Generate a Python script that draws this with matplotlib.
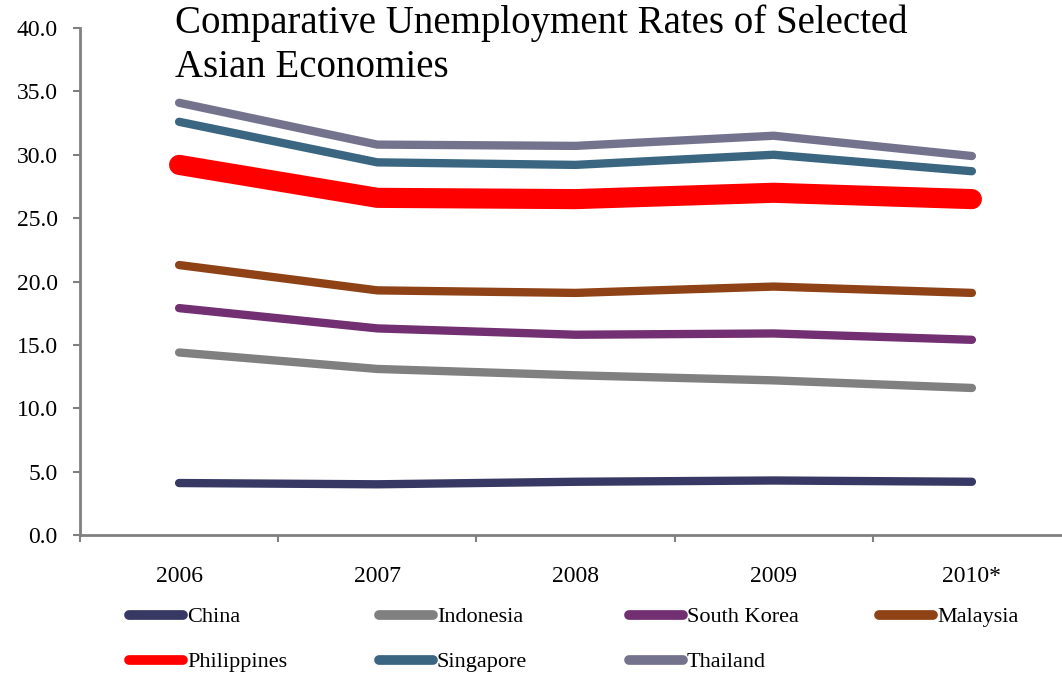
import matplotlib
matplotlib.use("Agg")
import matplotlib.pyplot as plt
from matplotlib.lines import Line2D

# ── Data ─────────────────────────────────────────────────────
YEARS = ["2006", "2007", "2008", "2009", "2010*"]
COUNTRIES = ["China", "Indonesia", "South Korea", "Malaysia",
             "Philippines", "Singapore", "Thailand"]
CHINA = [4.1, 4.0, 4.2, 4.3, 4.2]
INDONESIA = [14.4, 13.1, 12.6, 12.2, 11.6]
SOUTH_KOREA = [17.9, 16.3, 15.8, 15.9, 15.4]
MALAYSIA = [21.3, 19.3, 19.1, 19.6, 19.1]
PHILIPPINES = [29.2, 26.6, 26.5, 27.0, 26.5]
SINGAPORE = [32.6, 29.4, 29.2, 30.0, 28.7]
THAILAND = [34.1, 30.8, 30.7, 31.5, 29.9]
SERIES = [CHINA, INDONESIA, SOUTH_KOREA, MALAYSIA,
          PHILIPPINES, SINGAPORE, THAILAND]

# ── Style ────────────────────────────────────────────────────
COLORS = ["#373864", "#808080", "#722F72", "#8E4216",
          "#FF0000", "#3A6681", "#74738E"]
WIDTHS = [6, 6, 6, 6, 14.5, 6, 6]
AXIS_GRAY = "#808080"
SERIF = ["Liberation Serif", "DejaVu Serif"]
W, H = 1062, 673

plt.rcParams.update({"font.family": SERIF})

fig = plt.figure(figsize=(W / 100, H / 100), dpi=100)
ax = fig.add_axes([80 / W, (H - 535) / H, (1071 - 80) / W, (535 - 28) / H])

x = range(len(YEARS))
for vals, col, lw in zip(SERIES, COLORS, WIDTHS):
    ax.plot(x, vals, color=col, linewidth=lw, solid_capstyle="round",
            solid_joinstyle="round", zorder=3)

ax.set_ylim(0, 40)
ax.set_xlim(-0.5, len(YEARS) - 0.5)
ax.set_yticks(range(0, 41, 5))
ax.set_yticklabels([f"{v:.1f}" for v in range(0, 41, 5)], fontsize=17)
ax.set_xticks(list(x))
ax.set_xticklabels(YEARS, fontsize=17)
ax.set_xticks([i - 0.5 for i in range(len(YEARS))], minor=True)
ax.tick_params(axis="x", which="major", length=0, pad=22)
ax.tick_params(axis="x", which="minor", length=5, width=1.5, color=AXIS_GRAY,
               direction="out")
ax.tick_params(axis="y", length=5, width=1.5, color=AXIS_GRAY, pad=11)

for side in ("top", "right"):
    ax.spines[side].set_visible(False)
for side in ("left", "bottom"):
    ax.spines[side].set_color(AXIS_GRAY)
    ax.spines[side].set_linewidth(2)

fig.text(175 / W, 1 - 4 / H,
         "Comparative Unemployment Rates of Selected\nAsian Economies",
         fontsize=28, ha="left", va="top", linespacing=1.25)

# Manual legend, 4 columns x 2 rows
for i, (name, col) in enumerate(zip(COUNTRIES, COLORS)):
    cx = 129 + 250 * (i % 4)
    cy = 615 + 45 * (i // 4)
    fig.add_artist(Line2D([cx / W, (cx + 54) / W], [1 - cy / H, 1 - cy / H],
                          color=col, linewidth=7, solid_capstyle="round",
                          transform=fig.transFigure))
    fig.text((cx + 58) / W, 1 - (cy + 7) / H, name, fontsize=16,
             ha="left", va="baseline")

fig.savefig("out.png", dpi=100, facecolor="white")
